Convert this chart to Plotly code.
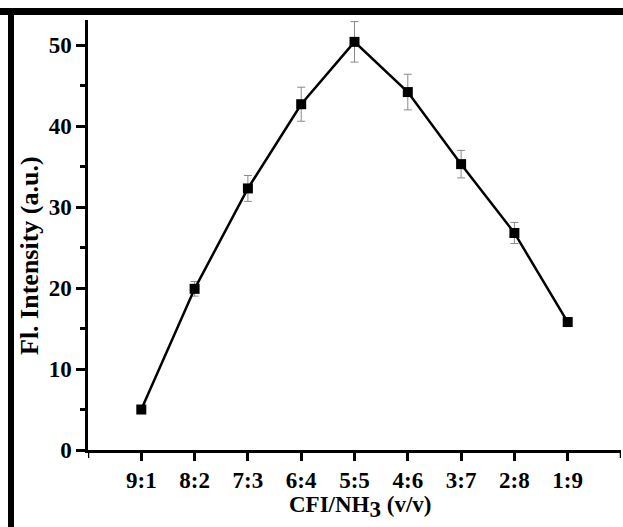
import plotly.graph_objects as go

categories = ["9:1", "8:2", "7:3", "6:4", "5:5", "4:6", "3:7", "2:8", "1:9"]
intensity = [5.0, 19.9, 32.3, 42.7, 50.4, 44.2, 35.3, 26.8, 15.8]
errors = [0.3, 0.9, 1.6, 2.1, 2.5, 2.2, 1.7, 1.3, 0.5]
positions = list(range(1, len(categories) + 1))
x_range = [0, len(categories) + 1]
x_title = "CFI/NH<sub><span style='font-size:23px'>3</span></sub> (v/v)"
y_title = "Fl. Intensity (a.u.)"

W, H = 623, 527
L, R, T, B = 88, 2, 20, 77
pw, ph = W - L - R, H - T - B

fig = go.Figure()
fig.add_trace(go.Scatter(
    x=positions, y=intensity, mode="lines+markers",
    line=dict(color="black", width=2.5),
    marker=dict(symbol="square", size=10, color="black"),
    error_y=dict(type="data", array=errors, visible=True, color="#8a8a8a", thickness=1, width=4),
    showlegend=False,
))

font_fam = "Liberation Serif, Times New Roman, serif"

def px_x(x):
    return (x - L) / pw

def px_y(y):
    return (H - B - y) / ph

shapes = [
    dict(type="rect", xref="paper", yref="paper",
         x0=px_x(0), x1=px_x(W), y0=px_y(8), y1=px_y(15),
         fillcolor="black", line=dict(width=0), layer="above"),
    dict(type="rect", xref="paper", yref="paper",
         x0=px_x(8), x1=px_x(14), y0=px_y(8), y1=px_y(H),
         fillcolor="black", line=dict(width=0), layer="above"),
]
for xv in x_range:
    shapes.append(dict(type="line", xref="x", yref="paper", x0=xv, x1=xv,
                       y0=0, y1=-8 / ph, line=dict(color="black", width=2.5)))

fig.update_layout(
    width=W, height=H,
    margin=dict(l=L, r=R, t=T, b=B),
    paper_bgcolor="white", plot_bgcolor="white",
    font=dict(family=font_fam, color="black"),
    xaxis=dict(
        range=x_range, tickmode="array", tickvals=positions, ticktext=categories,
        showline=True, linecolor="black", linewidth=2.5, mirror=False,
        ticks="outside", ticklen=8, tickwidth=2.5, tickcolor="black",
        showgrid=False, zeroline=False,
        tickfont=dict(family=font_fam, size=23, weight=700),
    ),
    yaxis=dict(
        range=[0, 53.1], tickmode="array", tickvals=[0, 10, 20, 30, 40, 50],
        showline=True, linecolor="black", linewidth=2.5,
        ticks="outside", ticklen=9, tickwidth=2.5, tickcolor="black",
        minor=dict(ticks="outside", ticklen=5, dtick=5, tick0=5,
                   tickwidth=2.5, tickcolor="black", showgrid=False),
        showgrid=False, zeroline=False,
        tickfont=dict(family=font_fam, size=23, weight=700),
    ),
    annotations=[
        dict(text=x_title, xref="paper", yref="paper", x=px_x(360), y=px_y(507),
             xanchor="center", yanchor="middle", showarrow=False,
             font=dict(family=font_fam, size=23, weight=700)),
        dict(text=y_title, xref="paper", yref="paper", x=px_x(29), y=px_y(256),
             xanchor="center", yanchor="middle", showarrow=False, textangle=-90,
             font=dict(family=font_fam, size=26, weight=700)),
    ],
    shapes=shapes,
)

fig.write_html("out.html")
